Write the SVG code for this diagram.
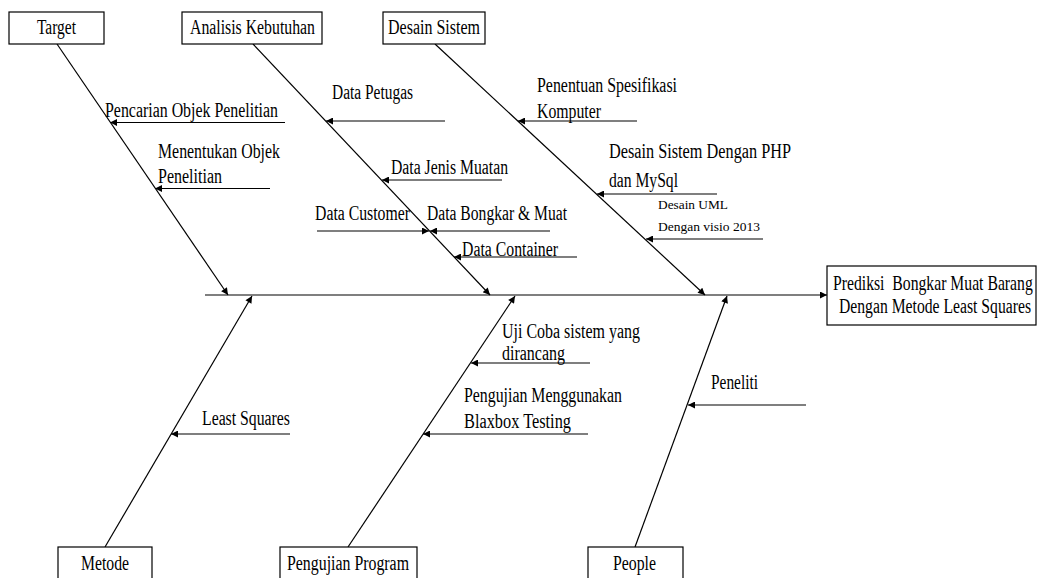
<svg xmlns="http://www.w3.org/2000/svg" width="1038" height="578" viewBox="0 0 1038 578">
<defs>
<style>
text{font-family:"Liberation Serif","Times New Roman",serif;font-size:20px;fill:#000;}
.sm{font-size:13px;}
.box{fill:#fff;stroke:#000;stroke-width:1.2;}
.ln{stroke:#000;stroke-width:1.2;fill:none;marker-end:url(#ah);}
</style>
<marker id="ah" viewBox="0 0 10 10" refX="10" refY="5" markerWidth="9" markerHeight="7" markerUnits="userSpaceOnUse" orient="auto">
<path d="M0,0 L10,5 L0,10 Z" fill="#000"/>
</marker>
</defs>
<rect width="1038" height="578" fill="#fff"/>

<g id="connectors">
<line class="ln" x1="205" y1="295" x2="827" y2="295"/>
<line class="ln" x1="57" y1="44" x2="228" y2="295"/>
<line class="ln" x1="253" y1="44" x2="490" y2="295"/>
<line class="ln" x1="435" y1="44" x2="705" y2="295"/>
<line class="ln" x1="105" y1="547" x2="252" y2="296"/>
<line class="ln" x1="348" y1="547" x2="515" y2="296"/>
<line class="ln" x1="635" y1="547" x2="727" y2="296"/>

<line class="ln" x1="285" y1="122.5" x2="110" y2="122.5"/>
<line class="ln" x1="270" y1="188.5" x2="155" y2="188.5"/>
<line class="ln" x1="445" y1="121" x2="326" y2="121"/>
<line class="ln" x1="502" y1="180" x2="382" y2="180"/>
<line class="ln" x1="317" y1="231" x2="429" y2="231"/>
<line class="ln" x1="550" y1="231" x2="430" y2="231"/>
<line class="ln" x1="577" y1="257" x2="454" y2="257"/>
<line class="ln" x1="637" y1="121" x2="518" y2="121"/>
<line class="ln" x1="717" y1="194" x2="597" y2="194"/>
<line class="ln" x1="763" y1="239" x2="646" y2="239"/>
<line class="ln" x1="290" y1="434" x2="171" y2="434"/>
<line class="ln" x1="590" y1="363" x2="471" y2="363"/>
<line class="ln" x1="588" y1="434" x2="423" y2="434"/>
<line class="ln" x1="806" y1="405" x2="688" y2="405"/>
</g>

<g id="labels">
<text x="105" y="117" textLength="173" lengthAdjust="spacingAndGlyphs">Pencarian Objek Penelitian</text>
<text x="158" y="158" textLength="122" lengthAdjust="spacingAndGlyphs">Menentukan Objek</text>
<text x="158" y="183" textLength="64" lengthAdjust="spacingAndGlyphs">Penelitian</text>
<text x="332" y="99" textLength="81" lengthAdjust="spacingAndGlyphs">Data Petugas</text>
<text x="391" y="174" textLength="117" lengthAdjust="spacingAndGlyphs">Data Jenis Muatan</text>
<text x="315" y="220" textLength="95" lengthAdjust="spacingAndGlyphs">Data Customer</text>
<text x="427" y="220" textLength="140" lengthAdjust="spacingAndGlyphs">Data Bongkar &amp; Muat</text>
<text x="462" y="256" textLength="96" lengthAdjust="spacingAndGlyphs">Data Container</text>
<text x="537" y="92" textLength="140" lengthAdjust="spacingAndGlyphs">Penentuan Spesifikasi</text>
<text x="537" y="118" textLength="64" lengthAdjust="spacingAndGlyphs">Komputer</text>
<text x="609" y="158" textLength="182" lengthAdjust="spacingAndGlyphs">Desain Sistem Dengan PHP</text>
<text x="609" y="187" textLength="69" lengthAdjust="spacingAndGlyphs">dan MySql</text>
<text class="sm" x="658" y="209" textLength="70" lengthAdjust="spacingAndGlyphs">Desain UML</text>
<text class="sm" x="658" y="231" textLength="102" lengthAdjust="spacingAndGlyphs">Dengan visio 2013</text>
<text x="202" y="425" textLength="88" lengthAdjust="spacingAndGlyphs">Least Squares</text>
<text x="502" y="338" textLength="138" lengthAdjust="spacingAndGlyphs">Uji Coba sistem yang</text>
<text x="502" y="360" textLength="63" lengthAdjust="spacingAndGlyphs">dirancang</text>
<text x="464" y="402" textLength="158" lengthAdjust="spacingAndGlyphs">Pengujian Menggunakan</text>
<text x="464" y="428" textLength="107" lengthAdjust="spacingAndGlyphs">Blaxbox Testing</text>
<text x="711" y="389" textLength="47" lengthAdjust="spacingAndGlyphs">Peneliti</text>
</g>

<g id="target">
<rect class="box" x="9" y="12" width="95" height="32"/>
<text x="37" y="34" textLength="39" lengthAdjust="spacingAndGlyphs">Target</text>
</g>
<g id="analisis">
<rect class="box" x="182" y="12" width="140" height="32"/>
<text x="190" y="34" textLength="125" lengthAdjust="spacingAndGlyphs">Analisis Kebutuhan</text>
</g>
<g id="desain">
<rect class="box" x="383" y="12" width="102" height="32"/>
<text x="388" y="34" textLength="92" lengthAdjust="spacingAndGlyphs">Desain Sistem</text>
</g>
<g id="metode">
<rect class="box" x="58" y="547" width="94" height="40"/>
<text x="81" y="570" textLength="48" lengthAdjust="spacingAndGlyphs">Metode</text>
</g>
<g id="pengujian">
<rect class="box" x="280" y="547" width="137" height="40"/>
<text x="287" y="570" textLength="122" lengthAdjust="spacingAndGlyphs">Pengujian Program</text>
</g>
<g id="people">
<rect class="box" x="588" y="547" width="95" height="40"/>
<text x="613" y="570" textLength="43" lengthAdjust="spacingAndGlyphs">People</text>
</g>
<g id="hasil">
<rect class="box" x="827" y="266" width="209" height="59"/>
<text transform="translate(833,290) scale(0.786,1)" x="0" y="0" style="white-space:pre">Prediksi  Bongkar Muat Barang</text>
<text transform="translate(839,313) scale(0.784,1)" x="0" y="0">Dengan Metode Least Squares</text>
</g>
</svg>
